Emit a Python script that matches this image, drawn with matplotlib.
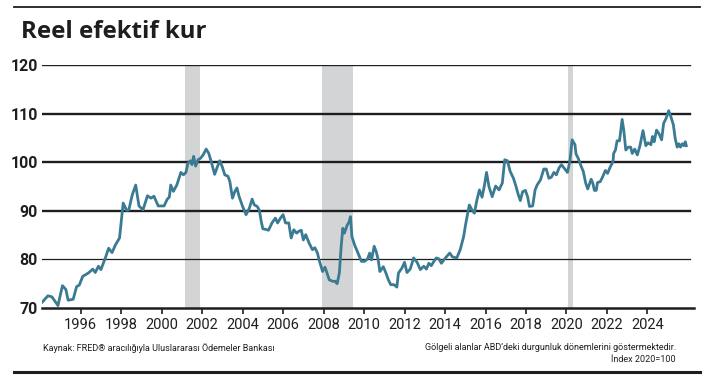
import matplotlib
matplotlib.use("Agg")
import matplotlib.pyplot as plt
from matplotlib.lines import Line2D

# ---- data (decimal year, index value) ----
years = [
    1994.10, 1994.38, 1994.58, 1994.88, 1995.10, 1995.27, 1995.38, 1995.63, 1995.80, 1995.93,
    1996.10, 1996.38, 1996.60, 1996.72, 1996.88, 1997.00, 1997.22, 1997.38, 1997.55, 1997.72,
    1997.92, 1998.10, 1998.27, 1998.38, 1998.55, 1998.72, 1998.88, 1999.08, 1999.30, 1999.47,
    1999.62, 1999.83, 2000.12, 2000.28, 2000.38, 2000.45, 2000.58, 2000.75, 2000.95, 2001.08,
    2001.20, 2001.30, 2001.42, 2001.50, 2001.58, 2001.68, 2001.80, 2001.92, 2002.05, 2002.20,
    2002.33, 2002.45, 2002.62, 2002.75, 2002.87, 2003.00, 2003.12, 2003.28, 2003.37, 2003.50,
    2003.62, 2003.72, 2003.83, 2004.00, 2004.17, 2004.33, 2004.47, 2004.58, 2004.72, 2004.83,
    2004.92, 2005.00, 2005.12, 2005.28, 2005.45, 2005.62, 2005.73, 2005.87, 2006.00, 2006.12,
    2006.28, 2006.40, 2006.53, 2006.67, 2006.78, 2006.90, 2007.00, 2007.12, 2007.28, 2007.45,
    2007.57, 2007.70, 2007.78, 2007.95, 2008.07, 2008.17, 2008.28, 2008.45, 2008.57, 2008.67,
    2008.78, 2008.87, 2008.95, 2009.03, 2009.17, 2009.25, 2009.33, 2009.40, 2009.53, 2009.70,
    2009.87, 2010.03, 2010.17, 2010.28, 2010.37, 2010.50, 2010.60, 2010.70, 2010.78, 2010.95,
    2011.08, 2011.20, 2011.32, 2011.48, 2011.62, 2011.70, 2011.87, 2012.00, 2012.12, 2012.28,
    2012.45, 2012.62, 2012.78, 2012.95, 2013.08, 2013.20, 2013.32, 2013.45, 2013.57, 2013.70,
    2013.82, 2013.98, 2014.23, 2014.37, 2014.58, 2014.75, 2014.92, 2015.03, 2015.20, 2015.33,
    2015.45, 2015.58, 2015.70, 2015.83, 2015.95, 2016.05, 2016.17, 2016.33, 2016.50, 2016.67,
    2016.83, 2016.95, 2017.08, 2017.22, 2017.38, 2017.50, 2017.62, 2017.72, 2017.83, 2017.97,
    2018.08, 2018.17, 2018.33, 2018.45, 2018.55, 2018.72, 2018.88, 2019.00, 2019.13, 2019.25,
    2019.38, 2019.50, 2019.63, 2019.75, 2019.88, 2020.05, 2020.17, 2020.28, 2020.42, 2020.47,
    2020.58, 2020.72, 2020.83, 2020.95, 2021.05, 2021.22, 2021.30, 2021.38, 2021.47, 2021.53,
    2021.67, 2021.80, 2021.92, 2022.03, 2022.17, 2022.30, 2022.33, 2022.42, 2022.50, 2022.62,
    2022.75, 2022.83, 2022.93, 2023.05, 2023.17, 2023.25, 2023.37, 2023.50, 2023.63, 2023.78,
    2023.92, 2024.03, 2024.17, 2024.25, 2024.33, 2024.45, 2024.58, 2024.70, 2024.80, 2024.92,
    2025.05, 2025.17, 2025.28, 2025.37, 2025.47, 2025.55, 2025.63, 2025.72, 2025.80, 2025.87,
    2025.92,
]
values = [
    71.2, 72.5, 72.3, 70.5, 74.6, 73.8, 71.6, 71.8, 74.4, 74.7,
    76.5, 77.2, 78.0, 77.3, 78.6, 77.9, 80.3, 82.3, 81.4, 83.0,
    84.4, 91.6, 90.1, 90.2, 93.3, 95.3, 91.0, 90.2, 93.1, 92.6,
    93.0, 91.0, 91.0, 92.4, 92.8, 95.3, 94.0, 95.3, 97.9, 97.4,
    97.9, 99.8, 100.3, 99.5, 101.2, 99.2, 100.5, 100.8, 101.5, 102.7,
    101.8, 100.1, 97.5, 99.0, 100.3, 99.0, 97.4, 97.1, 96.0, 92.6,
    94.0, 94.7, 92.9, 90.9, 89.2, 90.5, 92.4, 91.2, 90.9, 90.1,
    87.8, 86.3, 86.2, 86.0, 87.5, 88.5, 87.5, 88.5, 89.2, 87.5,
    87.5, 84.4, 86.1, 85.4, 85.8, 86.0, 84.0, 85.1, 83.4, 82.0,
    82.4, 81.3, 79.9, 77.5, 78.4, 77.2, 75.8, 75.5, 75.5, 75.0,
    77.2, 82.7, 86.4, 85.4, 87.1, 87.6, 88.8, 84.7, 83.0, 81.3,
    79.6, 79.6, 80.1, 81.3, 79.9, 82.7, 81.6, 79.9, 77.5, 78.5,
    77.2, 75.8, 74.8, 74.8, 74.3, 77.2, 78.2, 79.4, 77.3, 78.0,
    80.3, 79.4, 77.9, 78.6, 78.0, 79.2, 78.7, 79.6, 80.3, 80.1,
    79.2, 80.1, 81.3, 80.5, 80.3, 82.0, 84.7, 87.5, 91.2, 90.2,
    89.5, 92.3, 94.3, 92.8, 95.3, 97.9, 95.0, 92.9, 95.1, 94.3,
    95.7, 100.5, 100.3, 98.1, 96.7, 95.1, 93.3, 92.1, 93.9, 94.2,
    92.9, 90.9, 91.0, 94.3, 95.3, 96.4, 98.6, 98.6, 96.7, 96.9,
    97.9, 97.4, 98.8, 99.5, 98.8, 97.9, 100.3, 104.6, 103.6, 101.7,
    100.8, 99.2, 98.1, 95.7, 94.5, 96.5, 95.7, 94.2, 94.2, 95.8,
    96.0, 97.1, 98.3, 97.7, 99.1, 100.1, 101.8, 102.5, 104.4, 104.4,
    108.8, 106.6, 102.5, 103.1, 103.1, 101.8, 102.7, 101.5, 103.4, 106.5,
    103.4, 104.0, 103.6, 105.3, 104.2, 106.6, 105.8, 104.6, 108.0, 109.0,
    110.6, 109.2, 107.7, 104.9, 103.1, 103.8, 103.1, 103.8, 103.4, 104.2,
    103.4,
]

recession_starts = [2001.17, 2007.92, 2020.10]
recession_ends = [2001.88, 2009.46, 2020.30]

year_ticks = list(range(1996, 2025, 2))
year_labels = [str(y) for y in year_ticks]
value_ticks = [70, 80, 90, 100, 110, 120]
value_labels = [str(v) for v in value_ticks]

title = "Reel efektif kur"
source = "Kaynak: FRED\u00ae arac\u0131l\u0131\u011f\u0131yla Uluslararas\u0131 \u00d6demeler Bankas\u0131"
note1 = "G\u00f6lgeli alanlar ABD\u2019deki durgunluk d\u00f6nemlerini g\u00f6stermektedir."
note2 = "\u0130ndex 2020=100"

# ---- style ----
NARROW = ["Roboto", "DejaVu Sans"]
LINE_COLOR = "#3b7a93"
SHADE = "#d3d4d6"
INK = "#1e1e1e"

W, H = 705, 380
fig = plt.figure(figsize=(W / 100, H / 100), dpi=100)
fig.patch.set_facecolor("white")

ax_l, ax_r = 42, 694
ax_top, ax_bot = 65, 308
ax = fig.add_axes([ax_l / W, (H - ax_bot) / H, (ax_r - ax_l) / W, (ax_bot - ax_top) / H])

x0 = 1994.09
x1 = 2026.30
ax.set_xlim(x0, x1)
ax.set_ylim(70, 120)

for s, e in zip(recession_starts, recession_ends):
    ax.axvspan(s, e, color=SHADE, lw=0, zorder=0)

grid_xmax = (690 - ax_l) / (ax_r - ax_l)
for v in value_ticks[1:]:
    lw = 0.9 if v == 80 else 1.7
    ax.axhline(v, xmin=0, xmax=grid_xmax, color=INK, lw=lw, zorder=1)

ax.plot(years, values, color=LINE_COLOR, lw=2.0, zorder=3, solid_joinstyle="round")

for side in ["top", "right", "left"]:
    ax.spines[side].set_visible(False)
ax.spines["bottom"].set_linewidth(1.8)
ax.spines["bottom"].set_color(INK)
ax.spines["bottom"].set_zorder(4)

ax.set_xticks(year_ticks)
ax.set_xticklabels(year_labels, fontfamily=NARROW, fontsize=10.5, color=INK)
ax.tick_params(axis="x", length=4, width=1.2, color=INK, pad=3)
ax.set_yticks(value_ticks)
ax.set_yticklabels(value_labels, fontfamily=NARROW, fontsize=11.5, fontweight="bold", color=INK)
ax.tick_params(axis="y", length=0, pad=3)

# ---- figure furniture ----
fig.add_artist(Line2D([14 / W, 700 / W], [1 - 7 / H, 1 - 7 / H], color=INK, lw=1.3))
fig.add_artist(Line2D([14 / W, 700 / W], [1 - 372 / H, 1 - 372 / H], color=INK, lw=2.2))

fig.text(21 / W, 1 - 32 / H, title, fontsize=17.3, fontweight="bold",
         fontfamily=["Open Sans", "DejaVu Sans"], color=INK, va="center", ha="left")
fig.text(43 / W, 1 - 348 / H, source, fontsize=6.5, fontfamily=NARROW, color=INK,
         va="center", ha="left")
fig.text(676 / W, 1 - 348 / H, note1, fontsize=6.5, fontfamily=NARROW, color=INK,
         va="center", ha="right")
fig.text(676 / W, 1 - 360 / H, note2, fontsize=6.5, fontfamily=NARROW, color=INK,
         va="center", ha="right")

fig.savefig("out.png", dpi=100, facecolor="white")
